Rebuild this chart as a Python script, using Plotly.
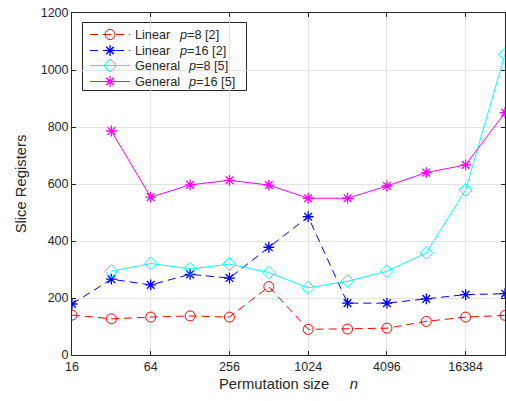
import math
import plotly.graph_objects as go

n = [16, 32, 64, 128, 256, 512, 1024, 2048, 4096, 8192, 16384, 32768]
lin_p8 = [140, 127, 133, 137, 133, 240, 90, 91, 94, 118, 133, 139]
lin_p16 = [179, 266, 246, 283, 270, 378, 485, 182, 182, 197, 212, 215]
gen_n = n[1:]
gen_p8 = [294, 321, 302, 319, 289, 236, 259, 294, 358, 579, 1055]
gen_p16 = [786, 554, 597, 613, 596, 550, 550, 593, 640, 667, 850]
xticks = [16, 64, 256, 1024, 4096, 16384]

series_names = ["Linear", "Linear", "General", "General"]
series_params = ["<i>p</i>=8 [2]", "<i>p</i>=16 [2]", "<i>p</i>=8 [5]", "<i>p</i>=16 [5]"]

DASH = "8px,5px"
styles = [
    dict(line=dict(color="#ff0000", width=1, dash=DASH),
         marker=dict(symbol="circle-open", size=10, color="#ff0000", line=dict(width=1, color="#ff0000"))),
    dict(line=dict(color="#0000ff", width=1, dash=DASH),
         marker=dict(symbol="asterisk-open", size=9, color="#0000ff", line=dict(width=1.3, color="#0000ff"))),
    dict(line=dict(color="#00ffff", width=1),
         marker=dict(symbol="diamond-open", size=10, color="#00ffff", line=dict(width=1, color="#00ffff"))),
    dict(line=dict(color="#ff00ff", width=1),
         marker=dict(symbol="asterisk-open", size=9, color="#ff00ff", line=dict(width=1.3, color="#ff00ff"))),
]
data = [(n, lin_p8), (n, lin_p16), (gen_n, gen_p8), (gen_n, gen_p16)]

XR = [math.log10(16), math.log10(32768)]
YR = [0, 1200]

fig = go.Figure()
for (xs, ys), st in zip(data, styles):
    fig.add_trace(go.Scatter(x=xs, y=ys, mode="lines+markers", showlegend=False, **st))

# manual legend placed via pixel -> axis fractions
PL, PR, PT, PB = 72, 505, 13, 355
def fx(p):
    return (p - PL) / (PR - PL)
def fy(p):
    return (PB - p) / (PB - PT)
def dx(p):
    return 10 ** (XR[0] + fx(p) * (XR[1] - XR[0]))
def dy(p):
    return YR[0] + fy(p) * (YR[1] - YR[0])

row_y = [34.5, 50.5, 65.5, 81.5]
param_x = [176.5, 176.5, 186, 186]
fig.add_shape(type="rect", xref="x domain", yref="y domain",
              x0=fx(82.5), x1=fx(246.5), y0=fy(90.5), y1=fy(22.5),
              line=dict(color="#262626", width=1), fillcolor="white", layer="below")
annotations = []
for i, st in enumerate(styles):
    fig.add_trace(go.Scatter(x=[dx(90), dx(130)], y=[dy(row_y[i])] * 2, mode="lines",
                             line=st["line"], showlegend=False, hoverinfo="skip"))
    fig.add_trace(go.Scatter(x=[dx(110)], y=[dy(row_y[i])], mode="markers",
                             marker=st["marker"], showlegend=False, hoverinfo="skip"))
    annotations.append(dict(x=fx(133), y=fy(row_y[i]), xref="paper", yref="paper", text=series_names[i],
                            showarrow=False, xanchor="left", yanchor="middle",
                            font=dict(size=12.7, color="#262626")))
    annotations.append(dict(x=fx(param_x[i]), y=fy(row_y[i]), xref="paper", yref="paper", text=series_params[i],
                            showarrow=False, xanchor="left", yanchor="middle",
                            font=dict(size=12.7, color="#262626")))

axis_common = dict(showline=True, linecolor="#262626", linewidth=1, mirror="ticks",
                   ticks="inside", ticklen=4, tickcolor="#262626",
                   showgrid=True, gridcolor="#e3e3e3", gridwidth=1, zeroline=False,
                   tickfont=dict(size=12.5, color="#262626"))

fig.update_layout(
    width=506, height=401,
    margin=dict(l=PL, r=506 - PR, t=PT, b=401 - PB),
    paper_bgcolor="white", plot_bgcolor="white",
    font=dict(family="Liberation Sans, Arial, sans-serif", color="#262626"),
    xaxis=dict(type="log", range=XR, tickvals=xticks, ticktext=[str(t) for t in xticks],
               title=dict(text="Permutation size     <i>n</i>", font=dict(size=14.8), standoff=5),
               **axis_common),
    yaxis=dict(range=YR, tickvals=[0, 200, 400, 600, 800, 1000, 1200],
               title=dict(text="Slice Registers", font=dict(size=14.8), standoff=10),
               **axis_common),
    annotations=annotations,
    showlegend=False,
)

fig.write_html("out.html")
